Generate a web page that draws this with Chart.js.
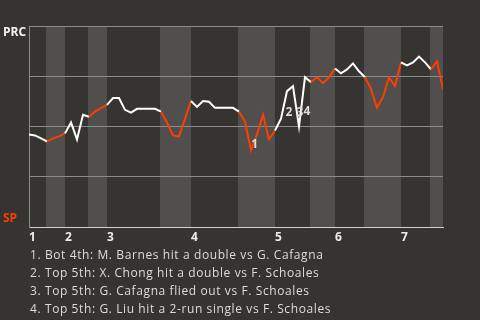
<!DOCTYPE html>
<html><head><meta charset="utf-8">
<script src="https://cdn.jsdelivr.net/npm/chart.js@4/dist/chart.umd.min.js"></script>
<style>
html,body{margin:0;padding:0;background:#363431;width:480px;height:320px;overflow:hidden;}
#wrap{position:relative;width:480px;height:320px;}
canvas{position:absolute;left:0;top:0;}
#notes{position:absolute;left:30px;top:246px;font-family:"Open Sans",sans-serif;font-size:12px;letter-spacing:0.6px;line-height:18px;color:#dcdcdc;white-space:nowrap;}
</style></head><body>
<div id="wrap"><canvas id="c" width="480" height="320"></canvas><div id="notes"></div></div>
<script>
// ---- data ----
const inningLabels = ['1','2','3','4','5','6','7'];
const inningStarts = [0, 6, 13, 27, 41, 51, 62];
const halfInningStarts = [0, 3, 6, 10, 13, 22, 27, 35, 41, 47, 51, 56, 62, 67];
const lastPlay = 69;
const winProb = [
  46.1, 45.6, 44.1, 42.6, 44.1, 45.1, 46.6, 52.0, 43.6, 55.9,
  54.9, 57.4, 59.3, 60.8, 64.2, 64.2, 58.3, 56.9, 58.8, 58.8,
  58.8, 58.8, 57.4, 52.0, 45.6, 45.1, 53.9, 62.7, 59.8, 62.7,
  62.3, 59.3, 59.3, 59.3, 59.3, 57.4, 52.5, 38.2, 46.1, 55.9,
  43.6, 48.0, 53.9, 67.6, 70.1, 50.0, 74.5, 72.1, 74.5, 71.6,
  74.5, 78.9, 76.5, 78.4, 81.4, 77.5, 74.5, 68.6, 59.3, 64.7,
  74.5, 70.1, 81.9, 80.4, 81.9, 84.8, 81.9, 78.4, 82.4, 68.6
];
const yGridValues = [0, 25, 50, 75, 100];
const teamTop = 'PRC';
const teamBottom = 'SP';
const teamTopPos = 96.5;
const teamBottomPos = 4.4;
const eventX = [37.6, 43.33, 45.17, 46.33];
const eventY = [41.2, 56.9, 56.9, 57.4];
const eventNotes = [
  '1. Bot 4th: M. Barnes hit a double vs G. Cafagna',
  '2. Top 5th: X. Chong hit a double vs F. Schoales',
  '3. Top 5th: G. Cafagna flied out vs F. Schoales',
  '4. Top 5th: G. Liu hit a 2-run single vs F. Schoales'
];

// ---- style ----
const BG = '#363431';
const BAND = '#504f4d';
const ORANGE = '#ff3d00';
const WHITE = '#ffffff';
const GRID = '#8c8c8c';
const FONT = '"Open Sans", sans-serif';

document.getElementById('notes').innerHTML = eventNotes.map(t => '<div>' + t + '</div>').join('');

function halfIndex(x) {
  let idx = 0;
  for (let i = 0; i < halfInningStarts.length; i++) if (x >= halfInningStarts[i]) idx = i;
  return idx;
}

const bandPlugin = {
  id: 'bands',
  beforeDraw(chart) {
    const {ctx, chartArea: a, scales: {x}} = chart;
    ctx.save();
    ctx.fillStyle = BG;
    ctx.fillRect(0, 0, chart.width, chart.height);
    ctx.fillStyle = BAND;
    for (let i = 1; i < halfInningStarts.length; i += 2) {
      const x0 = Math.round(x.getPixelForValue(halfInningStarts[i])) - 1;
      const end = i + 1 < halfInningStarts.length ? halfInningStarts[i + 1] : lastPlay;
      const x1 = Math.round(x.getPixelForValue(end));
      ctx.fillRect(x0, a.top, x1 - x0, a.bottom - a.top);
    }
    ctx.restore();
  }
};

const eventPlugin = {
  id: 'events',
  afterDatasetsDraw(chart) {
    const {ctx, scales: {x, y}} = chart;
    ctx.save();
    ctx.font = 'bold 12px ' + FONT;
    ctx.fillStyle = '#dddddd';
    ctx.textAlign = 'center';
    ctx.textBaseline = 'middle';
    eventX.forEach((ex, i) => ctx.fillText(String(i + 1), x.getPixelForValue(ex), y.getPixelForValue(eventY[i])));
    ctx.restore();
  }
};

new Chart(document.getElementById('c'), {
  type: 'line',
  data: {
    datasets: [{
      data: winProb.map((v, i) => ({x: i, y: v})),
      borderWidth: 2,
      pointRadius: 0,
      tension: 0,
      borderColor: WHITE,
      segment: {
        borderColor: c => (halfIndex(c.p0.parsed.x) % 2 === 1 ? ORANGE : WHITE)
      }
    }]
  },
  options: {
    responsive: false,
    animation: false,
    layout: {padding: {left: 3, top: 26, right: 37, bottom: 72.5}},
    plugins: {legend: {display: false}, tooltip: {enabled: false}},
    scales: {
      x: {
        type: 'linear', min: 0, max: lastPlay,
        afterBuildTicks: s => { s.ticks = inningStarts.map(v => ({value: v})); },
        grid: {display: false, drawTicks: false},
        border: {color: '#d0d0d0', width: 1},
        ticks: {
          callback: (v, i) => inningLabels[i],
          align: 'start', color: '#ececec', padding: 3, maxRotation: 0, autoSkip: false,
          font: {family: FONT, size: 12, weight: 'bold'}
        }
      },
      y: {
        min: 0, max: 100,
        afterBuildTicks: s => {
          s.ticks = [...yGridValues, teamTopPos, teamBottomPos].sort((a, b) => a - b).map(v => ({value: v}));
        },
        afterFit: s => { s.width = 26; },
        grid: {
          drawTicks: false,
          color: c => (c.tick && yGridValues.includes(c.tick.value) && c.tick.value > 0 ? GRID : 'rgba(0,0,0,0)')
        },
        border: {color: GRID, width: 1},
        ticks: {
          autoSkip: false, crossAlign: 'far', padding: 4,
          callback: v => (v === teamTopPos ? teamTop : v === teamBottomPos ? teamBottom : ''),
          color: c => (c.tick && c.tick.value === teamBottomPos ? ORANGE : '#f2f2f2'),
          font: {family: FONT, size: 12, weight: 'bold'}
        }
      }
    }
  },
  plugins: [bandPlugin, eventPlugin]
});
</script>
</body></html>
